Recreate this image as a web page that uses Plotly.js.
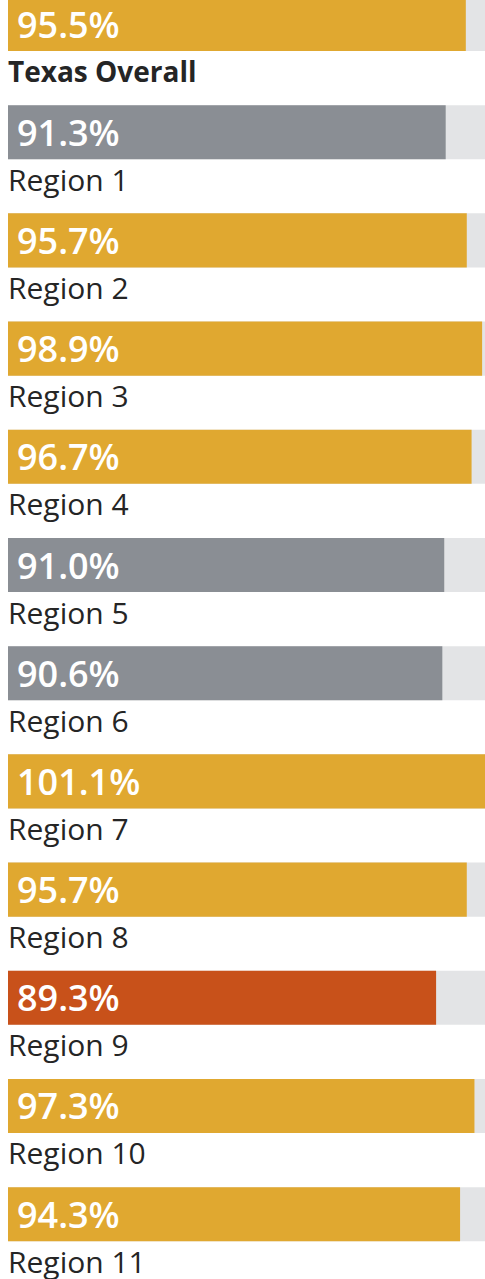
<!DOCTYPE html>
<html>
<head>
<meta charset="utf-8">
<script src="https://cdn.plot.ly/plotly-3.0.1.min.js"></script>
<style>html,body{margin:0;padding:0;background:#fff;}#chart{width:485px;height:1279px;}</style>
</head>
<body>
<div id="chart"></div>
<script>
const categories = ["Texas Overall","Region 1","Region 2","Region 3","Region 4","Region 5","Region 6","Region 7","Region 8","Region 9","Region 10","Region 11"];
const values = [95.5, 91.3, 95.7, 98.9, 96.7, 91.0, 90.6, 101.1, 95.7, 89.3, 97.3, 94.3];
const trackValue = 100;

function barColor(v){
  if (v < 90) return "#C8511A";
  if (v < 93) return "#8A8E94";
  return "#E0A830";
}

const track = {
  type: "bar", orientation: "h",
  y: categories, x: categories.map(() => trackValue),
  marker: {color: "#E3E4E6"}, hoverinfo: "skip", showlegend: false
};
const bars = {
  type: "bar", orientation: "h",
  y: categories, x: values,
  marker: {color: values.map(barColor)}, hoverinfo: "skip", showlegend: false
};

const annotations = [];
categories.forEach((c, i) => {
  annotations.push({
    x: 0, y: c, xref: "x", yref: "y", xanchor: "left", yanchor: "middle",
    xshift: 7, yshift: 0, showarrow: false,
    text: values[i].toFixed(1) + "%",
    font: {family: "Open Sans", size: 36, color: "#ffffff", weight: 600}
  });
  annotations.push({
    x: 0, y: c, xref: "x", yref: "y", xanchor: "left", yanchor: "middle",
    xshift: -2, yshift: -47, showarrow: false,
    text: i === 0 ? "<b>" + c + "</b>" : c,
    font: {family: "Open Sans", size: i === 0 ? 28 : 30, color: "#252525", weight: i === 0 ? 600 : 400}
  });
});

const layout = {
  width: 485, height: 1279,
  margin: {l: 8, r: 0, t: 0, b: 0, pad: 0},
  paper_bgcolor: "#ffffff", plot_bgcolor: "#ffffff",
  barmode: "overlay", bargap: 0.5,
  xaxis: {range: [0, 99.5], visible: false, fixedrange: true},
  yaxis: {type: "category", categoryorder: "array", categoryarray: categories,
          range: [11.599, -0.222], visible: false, fixedrange: true},
  annotations: annotations,
  font: {family: "Open Sans"}
};

Plotly.newPlot("chart", [track, bars], layout, {staticPlot: true, displayModeBar: false});
</script>
</body>
</html>
